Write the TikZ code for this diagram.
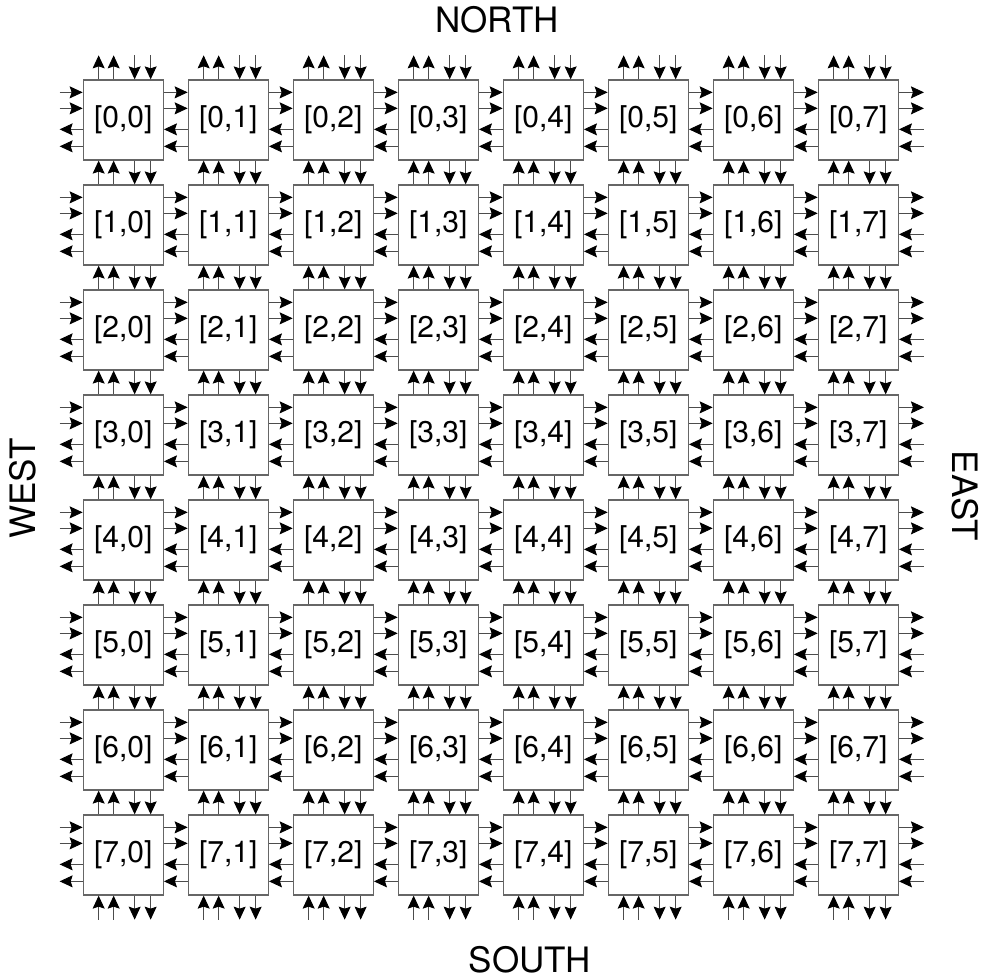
\documentclass[tikz,border=0pt]{standalone}
\usepackage{fontspec}
\setmainfont{TeX Gyre Heros}
\usetikzlibrary{arrows.meta}

\begin{document}
\begin{tikzpicture}[x=1pt, y=1pt,
  router/.style={draw=black!60, line width=1.3pt, fill=white, minimum size=80pt,
    inner sep=0pt, font=\fontsize{30}{30}\selectfont},
  link/.style={draw=black!70, line width=0.9pt,
    -{Stealth[length=13pt, width=12pt, inset=2pt, black]}},
  side/.style={font=\fontsize{35}{35}\selectfont, anchor=base}]
\useasboundingbox (0,0) rectangle (980,-980);

% Routers
\foreach \i in {0,...,7}
  \foreach \j in {0,...,7}
    \node[router] (b-\i-\j) at (123.3+105*\j, -120-105*\i) {[\i,\j]};

% East-west links between neighbours
\foreach \i in {0,...,7} {
  \foreach \j [evaluate=\j as \k using int(\j+1)] in {0,...,6} {
    \draw[link] ([yshift=-13pt]b-\i-\j.north east) -- ([yshift=-13pt]b-\i-\k.north west);
    \draw[link] ([yshift=-29pt]b-\i-\j.north east) -- ([yshift=-29pt]b-\i-\k.north west);
    \draw[link] ([yshift=-50pt]b-\i-\k.north west) -- ([yshift=-50pt]b-\i-\j.north east);
    \draw[link] ([yshift=-67pt]b-\i-\k.north west) -- ([yshift=-67pt]b-\i-\j.north east);
  }
}

% West and east border ports
\foreach \i in {0,...,7} {
  \draw[link] ([xshift=-23pt, yshift=-13pt]b-\i-0.north west) -- ([yshift=-13pt]b-\i-0.north west);
  \draw[link] ([xshift=-23pt, yshift=-29pt]b-\i-0.north west) -- ([yshift=-29pt]b-\i-0.north west);
  \draw[link] ([yshift=-50pt]b-\i-0.north west) -- ++(-23,0);
  \draw[link] ([yshift=-67pt]b-\i-0.north west) -- ++(-23,0);
  \draw[link] ([yshift=-13pt]b-\i-7.north east) -- ++(25,0);
  \draw[link] ([yshift=-29pt]b-\i-7.north east) -- ++(25,0);
  \draw[link] ([xshift=25pt, yshift=-50pt]b-\i-7.north east) -- ([yshift=-50pt]b-\i-7.north east);
  \draw[link] ([xshift=25pt, yshift=-67pt]b-\i-7.north east) -- ([yshift=-67pt]b-\i-7.north east);
}

% North-south links between neighbours
\foreach \j in {0,...,7} {
  \foreach \i [evaluate=\i as \k using int(\i+1)] in {0,...,6} {
    \draw[link] ([xshift=16pt]b-\k-\j.north west) -- ([xshift=16pt]b-\i-\j.south west);
    \draw[link] ([xshift=31pt]b-\k-\j.north west) -- ([xshift=31pt]b-\i-\j.south west);
    \draw[link] ([xshift=52pt]b-\i-\j.south west) -- ([xshift=52pt]b-\k-\j.north west);
    \draw[link] ([xshift=68pt]b-\i-\j.south west) -- ([xshift=68pt]b-\k-\j.north west);
  }
}

% North and south border ports
\foreach \j in {0,...,7} {
  \draw[link] ([xshift=16pt]b-0-\j.north west) -- ++(0,24);
  \draw[link] ([xshift=31pt]b-0-\j.north west) -- ++(0,24);
  \draw[link] ([xshift=52pt, yshift=24pt]b-0-\j.north west) -- ([xshift=52pt]b-0-\j.north west);
  \draw[link] ([xshift=68pt, yshift=24pt]b-0-\j.north west) -- ([xshift=68pt]b-0-\j.north west);
  \draw[link] ([xshift=16pt, yshift=-24pt]b-7-\j.south west) -- ([xshift=16pt]b-7-\j.south west);
  \draw[link] ([xshift=31pt, yshift=-24pt]b-7-\j.south west) -- ([xshift=31pt]b-7-\j.south west);
  \draw[link] ([xshift=52pt]b-7-\j.south west) -- ++(0,-24);
  \draw[link] ([xshift=68pt]b-7-\j.south west) -- ++(0,-24);
}

% Compass labels
\node[side] (north) at (497,-32) {NORTH};
\node[side] (south) at (530,-972) {SOUTH};
\node[side, rotate=-90] (east) at (952,-496) {EAST};
\node[side, rotate=90] (west) at (35,-488.5) {WEST};
\end{tikzpicture}
\end{document}
